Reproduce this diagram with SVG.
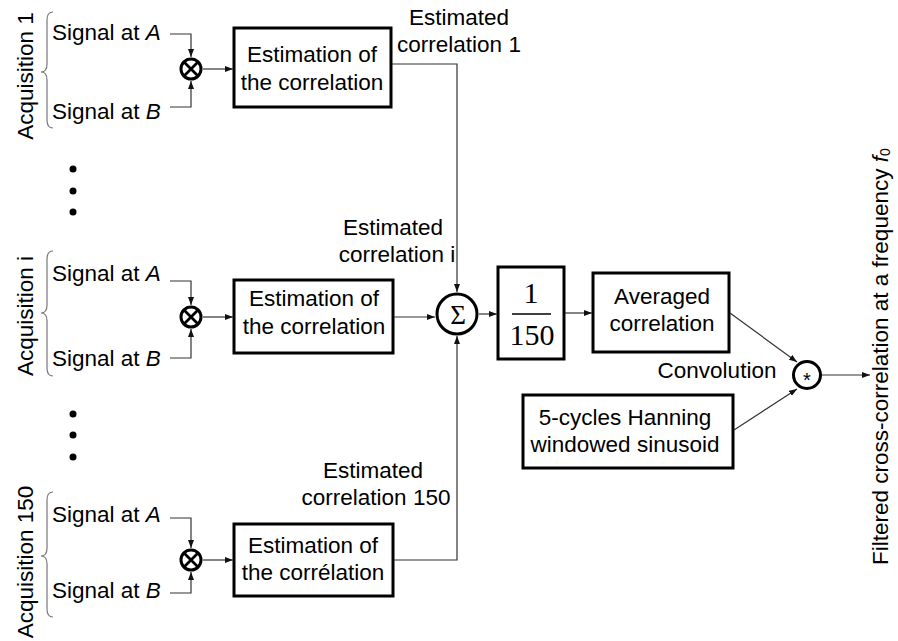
<svg xmlns="http://www.w3.org/2000/svg" width="898" height="641" viewBox="0 0 898 641">
<style>
text{font-family:"Liberation Sans",Arial,sans-serif;font-size:22.5px;fill:#000}
.c{text-anchor:middle}
.box{fill:#fff;stroke:#000;stroke-width:3}
.op{fill:#fff;stroke:#000;stroke-width:3}
.ln{fill:none;stroke:#333;stroke-width:1.2}
.br{fill:none;stroke:#777;stroke-width:1.2}
.x{stroke:#000;stroke-width:2.8}
text.serif{font-family:"Liberation Serif","Times New Roman",serif;font-size:30px}
text.sig{font-family:"Liberation Serif","Times New Roman",serif;font-size:27px}
text.ast{font-size:20px}
tspan.sub{font-size:14px}
</style>
<defs>
<marker id="ah" markerWidth="8" markerHeight="6" refX="8" refY="3" orient="auto" markerUnits="userSpaceOnUse">
<path d="M0,0 L8,3 L0,6 z" fill="#111"/>
</marker>
</defs>
<rect width="898" height="641" fill="#fff"/>

<g id="acq1">
<text transform="translate(33,76) rotate(-90)" class="c">Acquisition 1</text>
<path class="br" d="M53 12 Q47 12 47 20 L47 64 Q47 72 41 72 Q47 72 47 80 L47 120 Q47 128 53 128"/>
<text x="52" y="40">Signal at <tspan font-style="italic">A</tspan></text>
<text x="52" y="119">Signal at <tspan font-style="italic">B</tspan></text>
</g>
<g id="mul1">
<circle class="op" cx="191" cy="69" r="10"/>
<path class="x" d="M184 62 L198 76 M198 62 L184 76"/>
</g>
<g id="est1">
<rect class="box" x="234" y="28" width="157" height="79"/>
<text x="312" y="62" class="c">Estimation of</text>
<text x="312" y="90" class="c">the correlation</text>
</g>

<g id="dots1">
<circle cx="73" cy="169" r="3.5"/>
<circle cx="73" cy="191" r="3.5"/>
<circle cx="73" cy="212" r="3.5"/>
</g>

<g id="acqi">
<text transform="translate(33,316) rotate(-90)" class="c">Acquisition i</text>
<path class="br" d="M53 251 Q47 251 47 259 L47 305 Q47 313 41 313 Q47 313 47 321 L47 368 Q47 376 53 376"/>
<text x="52" y="281">Signal at <tspan font-style="italic">A</tspan></text>
<text x="52" y="366">Signal at <tspan font-style="italic">B</tspan></text>
</g>
<g id="muli">
<circle class="op" cx="191" cy="317" r="10"/>
<path class="x" d="M184 310 L198 324 M198 310 L184 324"/>
</g>
<g id="esti">
<rect class="box" x="234" y="280" width="159" height="73"/>
<text x="314" y="306" class="c">Estimation of</text>
<text x="314" y="334" class="c">the correlation</text>
</g>

<g id="dots2">
<circle cx="73" cy="414" r="3.5"/>
<circle cx="73" cy="435" r="3.5"/>
<circle cx="73" cy="457" r="3.5"/>
</g>

<g id="acq150">
<text transform="translate(33,562) rotate(-90)" class="c">Acquisition 150</text>
<path class="br" d="M53 492 Q47 492 47 500 L47 548 Q47 556 41 556 Q47 556 47 564 L47 609 Q47 617 53 617"/>
<text x="52" y="522">Signal at <tspan font-style="italic">A</tspan></text>
<text x="52" y="598">Signal at <tspan font-style="italic">B</tspan></text>
</g>
<g id="mul150">
<circle class="op" cx="191" cy="560" r="10"/>
<path class="x" d="M184 553 L198 567 M198 553 L184 567"/>
</g>
<g id="est150">
<rect class="box" x="234" y="524" width="159" height="72"/>
<text x="313" y="553" class="c">Estimation of</text>
<text x="313" y="580" class="c">the corrélation</text>
</g>

<g id="sum">
<circle class="op" cx="457" cy="314" r="20"/>
<text x="458" y="324" class="c sig">Σ</text>
</g>

<g id="div">
<rect class="box" x="498" y="267" width="66" height="92"/>
<text x="531" y="303" class="c serif">1</text>
<line x1="512" y1="314" x2="551" y2="314" stroke="#000" stroke-width="1.5"/>
<text x="532" y="345" class="c serif">150</text>
</g>

<g id="avg">
<rect class="box" x="593" y="273" width="136" height="79"/>
<text x="662" y="304" class="c">Averaged</text>
<text x="662" y="331" class="c">correlation</text>
</g>

<g id="hann">
<rect class="box" x="523" y="395" width="210" height="73"/>
<text x="625" y="425" class="c">5-cycles Hanning</text>
<text x="625" y="452" class="c">windowed sinusoid</text>
</g>

<g id="conv">
<circle class="op" cx="807" cy="375" r="13.5"/>
<text x="807" y="387" class="c ast">*</text>
</g>

<g id="labels">
<text x="459" y="25" class="c">Estimated</text>
<text x="459" y="52" class="c">correlation 1</text>
<text x="393" y="235" class="c">Estimated</text>
<text x="397" y="262" class="c">correlation i</text>
<text x="373" y="478" class="c">Estimated</text>
<text x="376" y="505" class="c">correlation 150</text>
<text x="717" y="378" class="c">Convolution</text>
<text transform="translate(888,565) rotate(-90)">Filtered cross-correlation at a frequency <tspan font-style="italic">f</tspan><tspan class="sub" dy="2">0</tspan></text>
</g>

<g id="connectors">
<path class="ln" d="M170 34 H191 V57" marker-end="url(#ah)"/>
<path class="ln" d="M170 107 H191 V81" marker-end="url(#ah)"/>
<path class="ln" d="M203 69 H233" marker-end="url(#ah)"/>
<path class="ln" d="M170 281 H191 V305" marker-end="url(#ah)"/>
<path class="ln" d="M170 358 H191 V329" marker-end="url(#ah)"/>
<path class="ln" d="M203 317 H233" marker-end="url(#ah)"/>
<path class="ln" d="M170 518 H191 V548" marker-end="url(#ah)"/>
<path class="ln" d="M170 593 H191 V572" marker-end="url(#ah)"/>
<path class="ln" d="M203 560 H233" marker-end="url(#ah)"/>
<path class="ln" d="M392 64 H457 V292" marker-end="url(#ah)"/>
<path class="ln" d="M394 317 H435" marker-end="url(#ah)"/>
<path class="ln" d="M394 560 H457 V336" marker-end="url(#ah)"/>
<path class="ln" d="M479 314 H497" marker-end="url(#ah)"/>
<path class="ln" d="M565 313 H592" marker-end="url(#ah)"/>
<path class="ln" d="M730 313 L797 362" marker-end="url(#ah)"/>
<path class="ln" d="M734 430 L797 389" marker-end="url(#ah)"/>
<path class="ln" d="M822 375 H870" marker-end="url(#ah)"/>
</g>
</svg>
